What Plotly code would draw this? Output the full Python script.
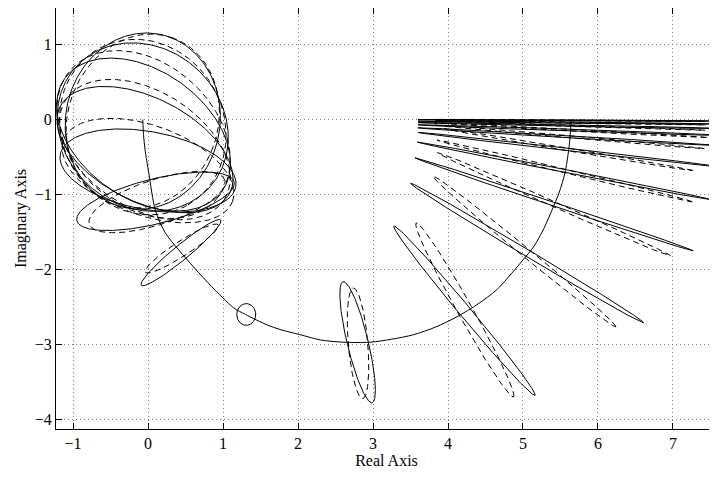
import numpy as np
import plotly.graph_objects as go

# Nominal Nyquist curve
nom_re = [5.64, 5.63, 5.61, 5.56, 5.48, 5.39, 5.28, 5.14, 5.01, 4.85, 4.65, 4.40, 4.12, 3.83,
          3.54, 3.25, 2.96, 2.61, 2.30, 2.03, 1.76, 1.59, 1.30, 1.14, 0.85, 0.62, 0.41, 0.23,
          0.10, 0.01, -0.04, -0.06, -0.07]
nom_im = [-0.03, -0.20, -0.40, -0.71, -0.98, -1.20, -1.45, -1.70, -1.86, -2.05, -2.27, -2.46,
          -2.63, -2.77, -2.87, -2.93, -2.97, -2.97, -2.94, -2.87, -2.80, -2.74, -2.60, -2.51,
          -2.23, -1.98, -1.74, -1.51, -1.22, -0.71, -0.40, -0.20, 0.00]

# Solid uncertainty ellipses: centre, semi-axes, rotation (deg)
sol_cx = [5.63, 5.63, 5.63, 5.63, 5.625, 5.61, 5.555, 5.415, 5.055, 4.22, 2.795, 1.31, 0.44,
          0.10, 0.00, -0.04, -0.06, -0.07, -0.07]
sol_cy = [-0.01, -0.04, -0.08, -0.14, -0.23, -0.40, -0.685, -1.13, -1.78, -2.55, -2.97, -2.60,
          -1.775, -1.09, -0.68, -0.40, -0.20, -0.10, -0.02]
sol_a = [2.03, 2.03, 2.03, 2.03, 2.03, 2.02, 2.00, 1.956, 1.81, 1.47, 0.83, 0.145, 0.686,
         1.08, 1.19, 1.27, 1.29, 1.20, 1.18]
sol_b = [0.006, 0.008, 0.010, 0.012, 0.014, 0.016, 0.020, 0.025, 0.045, 0.077, 0.14, 0.127, 0.10,
         0.30, 0.52, 0.69, 0.85, 1.06, 1.03]
sol_ang = [-0.28, -0.56, -1.13, -1.98, -3.4, -6.5, -11.1, -18.5, -30.9, -50.2, -76.5, 90, 39.4,
           13.9, -10.5, -27.0, -35.6, -41.6, 80.0]

# Dashed uncertainty ellipses
dsh_cx = [5.63, 5.63, 5.63, 5.63, 5.625, 5.61, 5.555, 5.415, 5.02, 4.225, 2.80, 0.45,
          0.12, 0.00, -0.04, -0.06, -0.07, -0.07]
dsh_cy = [-0.01, -0.04, -0.08, -0.14, -0.23, -0.40, -0.685, -1.13, -1.76, -2.54, -2.985, -1.72,
          -1.10, -0.68, -0.40, -0.20, -0.10, -0.02]
dsh_a = [1.80, 1.80, 1.80, 1.82, 1.80, 1.68, 1.75, 1.70, 1.58, 1.33, 0.74, 0.58,
         0.95, 1.20, 1.25, 1.30, 1.20, 1.18]
dsh_b = [0.006, 0.008, 0.010, 0.012, 0.014, 0.018, 0.025, 0.035, 0.06, 0.10, 0.13, 0.10,
         0.30, 0.60, 0.78, 0.95, 1.08, 1.00]
dsh_ang = [-0.4, -1.0, -2.0, -3.1, -5.0, -9.6, -13.6, -23.9, -39.5, -60.8, -85.2, 33.0,
           18.0, -20.0, -32.0, -42.0, -60.0, 70.0]

x_ticks = [-1, 0, 1, 2, 3, 4, 5, 6, 7]
y_ticks = [-4, -3, -2, -1, 0, 1]

fig = go.Figure()

t = np.linspace(0, 2 * np.pi, 361)


def ellipse(cx, cy, a, b, ang):
    th = np.deg2rad(ang)
    u = a * np.cos(t)
    v = b * np.sin(t)
    return cx + u * np.cos(th) - v * np.sin(th), cy + u * np.sin(th) + v * np.cos(th)


for cx, cy, a, b, ang in zip(dsh_cx, dsh_cy, dsh_a, dsh_b, dsh_ang):
    ex, ey = ellipse(cx, cy, a, b, ang)
    fig.add_trace(go.Scatter(x=ex, y=ey, mode="lines",
                             line=dict(color="black", width=1, dash="6px,4px"),
                             showlegend=False, hoverinfo="skip"))

for cx, cy, a, b, ang in zip(sol_cx, sol_cy, sol_a, sol_b, sol_ang):
    ex, ey = ellipse(cx, cy, a, b, ang)
    fig.add_trace(go.Scatter(x=ex, y=ey, mode="lines",
                             line=dict(color="black", width=1),
                             showlegend=False, hoverinfo="skip"))

fig.add_trace(go.Scatter(x=nom_re, y=nom_im, mode="lines",
                         line=dict(color="black", width=1, shape="spline", smoothing=0.8),
                         showlegend=False, hoverinfo="skip"))

axis_font = dict(family="Liberation Serif, Times New Roman, serif", size=16, color="black")

# page body has an 8px default margin, so the figure is 8px smaller and offset
fig.update_layout(
    width=709, height=469,
    margin=dict(l=48, r=0, t=0, b=48),
    plot_bgcolor="white", paper_bgcolor="white",
    font=axis_font,
    xaxis=dict(range=[-1.227, 7.587], tickvals=x_ticks, ticks="inside", ticklen=6,
               tickcolor="black", showline=True, linecolor="black", linewidth=1, mirror="ticks",
               showgrid=True, gridcolor="#808080", griddash="1px,3px", gridwidth=1,
               zeroline=False, title=dict(text="Real Axis", font=axis_font, standoff=2),
               tickfont=axis_font),
    yaxis=dict(range=[-4.128, 1.489], tickvals=y_ticks, ticks="inside", ticklen=6,
               tickcolor="black", showline=True, linecolor="black", linewidth=1, mirror="ticks",
               showgrid=True, gridcolor="#808080", griddash="1px,3px", gridwidth=1,
               zeroline=False, title=dict(text="Imaginary Axis", font=axis_font, standoff=4),
               tickfont=axis_font),
)

fig.write_html("out.html")
